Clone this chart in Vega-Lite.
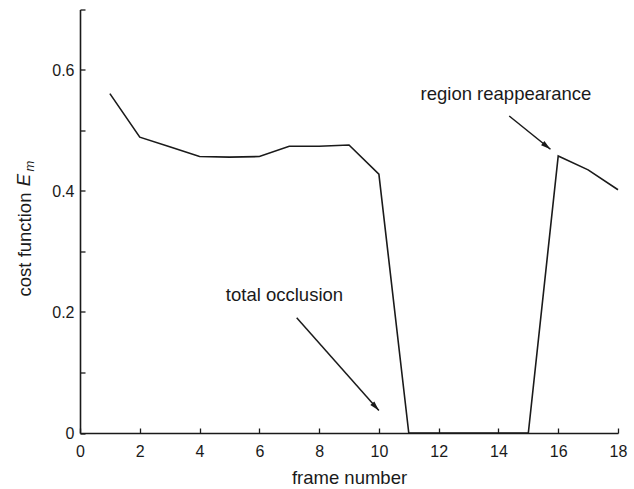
{
  "$schema": "https://vega.github.io/schema/vega-lite/v6.json",
  "width": 538,
  "height": 423.5,
  "autosize": {"type": "none"},
  "padding": {"left": 80, "top": 9.5, "right": 16, "bottom": 56},
  "background": "white",
  "config": {
    "view": {"stroke": null},
    "font": "Liberation Sans",
    "axis": {
      "grid": false,
      "domainColor": "#1a1a1a",
      "domainWidth": 1.6,
      "tickColor": "#1a1a1a",
      "tickWidth": 1.3,
      "tickSize": -5,
      "labelFlush": false,
      "labelFont": "Liberation Sans",
      "labelFontSize": 16,
      "labelColor": "#1a1a1a",
      "titleFont": "Liberation Sans",
      "titleFontSize": 18.5,
      "titleFontWeight": "normal",
      "titleColor": "#1a1a1a"
    }
  },
  "datasets": {
    "cost": [
      {"frame": 1, "cost": 0.561},
      {"frame": 2, "cost": 0.489},
      {"frame": 3, "cost": 0.473},
      {"frame": 4, "cost": 0.457},
      {"frame": 5, "cost": 0.456},
      {"frame": 6, "cost": 0.457},
      {"frame": 7, "cost": 0.474},
      {"frame": 8, "cost": 0.474},
      {"frame": 9, "cost": 0.476},
      {"frame": 10, "cost": 0.428},
      {"frame": 11, "cost": 0},
      {"frame": 12, "cost": 0},
      {"frame": 13, "cost": 0},
      {"frame": 14, "cost": 0},
      {"frame": 15, "cost": 0},
      {"frame": 16, "cost": 0.458},
      {"frame": 17, "cost": 0.435},
      {"frame": 18, "cost": 0.402}
    ],
    "arrows": [
      {"name": "occlusion", "x": 7.25, "y": 0.1906, "x2": 10.0, "y2": 0.037},
      {"name": "reappearance", "x": 14.36, "y": 0.524, "x2": 15.74, "y2": 0.469}
    ],
    "notes": [
      {"name": "occlusion", "text": "total occlusion", "x": 6.84, "y": 0.2187},
      {"name": "reappearance", "text": "region reappearance", "x": 14.25, "y": 0.550}
    ],
    "symbol": [
      {"part": "E", "x": -1.672, "y": 0.418},
      {"part": "m", "x": -1.53, "y": 0.441}
    ]
  },
  "layer": [
    {
      "data": {"name": "cost"},
      "mark": {"type": "line", "color": "#1a1a1a", "strokeWidth": 1.6},
      "encoding": {
        "x": {
          "field": "frame",
          "type": "quantitative",
          "scale": {"domain": [0, 18], "nice": false},
          "axis": {
            "values": [0, 2, 4, 6, 8, 10, 12, 14, 16, 18],
            "title": "frame number",
            "titleY": 50,
            "titleBaseline": "alphabetic",
            "labelPadding": 15
          }
        },
        "y": {
          "field": "cost",
          "type": "quantitative",
          "scale": {"domain": [0, 0.7], "nice": false},
          "axis": {
            "values": [0, 0.1, 0.2, 0.3, 0.4, 0.5, 0.6, 0.7],
            "format": ".1~f",
            "labelExpr": "round(datum.value * 10) % 2 === 0 && round(datum.value * 10) < 7 ? datum.label : ''",
            "labelPadding": 11,
            "title": "cost function",
            "titleX": -50,
            "titleY": 234.5,
            "titleAngle": 270,
            "titleAlign": "center",
            "titleBaseline": "alphabetic"
          }
        }
      }
    },
    {
      "data": {"name": "arrows"},
      "mark": {"type": "rule", "color": "#1a1a1a", "strokeWidth": 1.5},
      "encoding": {
        "x": {"field": "x", "type": "quantitative"},
        "y": {"field": "y", "type": "quantitative"},
        "x2": {"field": "x2"},
        "y2": {"field": "y2"}
      }
    },
    {
      "data": {"name": "arrows"},
      "transform": [{"filter": "datum.name === 'occlusion'"}],
      "mark": {"type": "point", "shape": "M0,0L0.6,2.2L-0.6,2.2Z", "filled": true, "color": "#1a1a1a", "opacity": 1, "size": 81, "angle": 138.5},
      "encoding": {
        "x": {"field": "x2", "type": "quantitative"},
        "y": {"field": "y2", "type": "quantitative"}
      }
    },
    {
      "data": {"name": "arrows"},
      "transform": [{"filter": "datum.name === 'reappearance'"}],
      "mark": {"type": "point", "shape": "M0,0L0.6,2.2L-0.6,2.2Z", "filled": true, "color": "#1a1a1a", "opacity": 1, "size": 81, "angle": 128.8},
      "encoding": {
        "x": {"field": "x2", "type": "quantitative"},
        "y": {"field": "y2", "type": "quantitative"}
      }
    },
    {
      "data": {"name": "notes"},
      "mark": {"type": "text", "font": "Liberation Sans", "fontSize": 18.5, "color": "#1a1a1a", "align": "center", "baseline": "alphabetic"},
      "encoding": {
        "x": {"field": "x", "type": "quantitative"},
        "y": {"field": "y", "type": "quantitative"},
        "text": {"field": "text"}
      }
    },
    {
      "data": {"name": "symbol"},
      "transform": [{"filter": "datum.part === 'E'"}],
      "mark": {"type": "text", "font": "Liberation Sans", "fontSize": 18.5, "fontStyle": "italic", "color": "#1a1a1a", "align": "center", "baseline": "alphabetic", "angle": 270, "clip": false},
      "encoding": {
        "x": {"field": "x", "type": "quantitative"},
        "y": {"field": "y", "type": "quantitative"},
        "text": {"field": "part"}
      }
    },
    {
      "data": {"name": "symbol"},
      "transform": [{"filter": "datum.part === 'm'"}],
      "mark": {"type": "text", "font": "Liberation Sans", "fontSize": 13, "fontStyle": "italic", "color": "#1a1a1a", "align": "center", "baseline": "alphabetic", "angle": 270, "clip": false},
      "encoding": {
        "x": {"field": "x", "type": "quantitative"},
        "y": {"field": "y", "type": "quantitative"},
        "text": {"field": "part"}
      }
    }
  ]
}
